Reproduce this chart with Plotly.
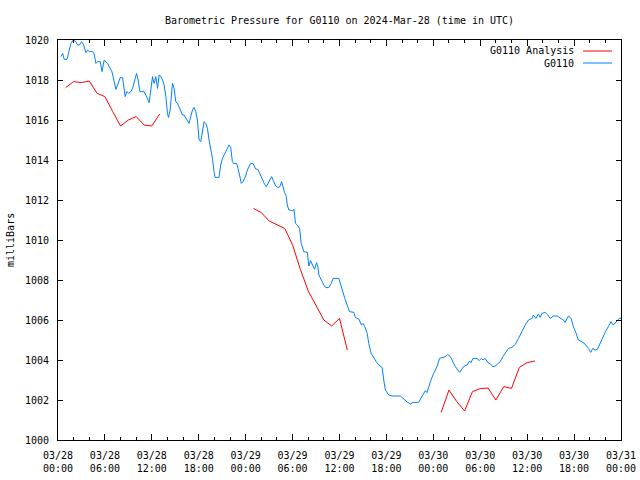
import pandas as pd
import plotly.graph_objects as go

# ---- data ----
start_time = "2024-03-28 00:00"

obs_hours = [0.38, 0.6, 0.8, 1.15, 1.44, 1.66, 1.95, 2.21, 2.51, 2.72, 3.03, 3.28, 3.57, 3.79, 4.0, 4.43, 4.63,
             4.85, 5.07, 5.4, 5.62, 5.91, 6.34, 6.55, 6.89, 7.19, 7.4, 7.62, 7.95, 8.26, 8.39, 8.59, 8.81, 9.03,
             9.32, 9.54, 9.87, 10.05, 10.25, 10.47, 10.72, 10.94, 11.23, 11.45, 11.66, 11.87, 12.09, 12.29, 12.51,
             12.73, 12.93, 13.15, 13.37, 13.57, 13.79, 14.0, 14.13, 14.34, 14.55, 14.64, 14.85, 15.06, 15.28, 15.7,
             15.92, 16.12, 16.56, 16.76, 16.98, 17.2, 17.4, 17.62, 17.83, 18.04, 18.26, 18.47, 18.68, 18.89, 19.11,
             19.32, 19.53, 19.75, 19.95, 20.08, 20.59, 20.81, 21.03, 21.23, 21.45, 21.66, 21.87, 22.09, 22.3, 22.43,
             22.85, 23.02, 23.23, 23.45, 23.66, 24.0, 24.22, 24.42, 24.64, 24.93, 25.28, 25.57, 25.79, 26.0, 26.21,
             26.43, 26.64, 26.85, 27.06, 27.32, 27.54, 27.83, 28.12, 28.38, 28.6, 28.81, 28.98, 29.2, 29.32, 29.53,
             29.96, 30.17, 30.38, 30.6, 30.89, 31.11, 31.44, 31.88, 32.08, 32.3, 32.52, 32.81, 33.06, 33.23, 33.36,
             33.67, 34.0, 34.21, 34.64, 34.94, 35.2, 35.91, 36.22, 36.42, 36.68, 36.98, 37.28, 37.83, 38.04, 38.46,
             38.81, 39.03, 39.23, 39.54, 39.74, 40.05, 40.38, 40.69, 41.02, 41.45, 41.66, 41.87, 42.29, 42.73, 43.79,
             44.21, 44.64, 45.06, 45.41, 46.12, 46.43, 46.76, 46.98, 47.2, 47.62, 48.04, 48.47, 48.8, 49.24, 49.53,
             49.83, 50.17, 50.39, 50.81, 51.36, 51.87, 52.3, 52.64, 52.81, 53.07, 53.58, 53.87, 54.13, 54.35, 54.64,
             54.98, 55.28, 55.62, 55.92, 56.34, 56.55, 56.9, 57.19, 57.61, 58.05, 58.47, 58.89, 59.32, 59.74, 60.17,
             60.6, 60.8, 61.11, 61.44, 61.66, 61.88, 62.3, 62.64, 62.94, 63.36, 63.87, 64.3, 64.64, 64.85, 65.28,
             65.62, 65.91, 66.26, 66.55, 66.98, 67.4, 67.83, 68.13, 68.39, 68.68, 68.98, 69.23, 69.54, 69.96, 70.38,
             70.72, 71.02, 71.45, 71.78, 72.0]

obs_pressure = [1019.17, 1019.33, 1019.03, 1019.03, 1019.5, 1019.83, 1020.0, 1019.95, 1019.75, 1019.75, 1019.92,
                1019.75, 1019.37, 1019.5, 1019.42, 1019.42, 1019.3, 1018.83, 1018.92, 1018.92, 1018.42, 1019.0,
                1018.83, 1018.67, 1018.42, 1017.92, 1017.53, 1017.75, 1018.12, 1018.12, 1017.67, 1017.17, 1017.42,
                1017.33, 1017.42, 1017.58, 1018.08, 1018.33, 1018.0, 1017.42, 1017.42, 1017.45, 1017.25, 1017.08,
                1016.87, 1017.5, 1018.17, 1017.83, 1018.17, 1017.58, 1018.25, 1018.17, 1018.0, 1017.75, 1017.17,
                1016.33, 1016.13, 1016.5, 1017.25, 1017.83, 1017.58, 1016.92, 1016.83, 1016.5, 1016.25, 1016.25,
                1016.0, 1015.83, 1016.17, 1016.5, 1016.63, 1016.42, 1016.0, 1015.0, 1014.92, 1015.5, 1015.92,
                1015.83, 1015.58, 1015.0, 1014.58, 1014.08, 1013.42, 1013.13, 1013.13, 1013.75, 1014.08, 1014.25,
                1014.42, 1014.63, 1014.75, 1014.63, 1013.92, 1013.83, 1013.83, 1013.58, 1013.17, 1012.83, 1012.92,
                1013.2, 1013.5, 1013.7, 1013.83, 1013.83, 1013.55, 1013.53, 1013.33, 1013.2, 1013.03, 1012.78,
                1012.67, 1012.83, 1012.92, 1013.17, 1012.97, 1012.7, 1012.62, 1012.67, 1012.92, 1012.58, 1012.37,
                1012.17, 1011.75, 1011.5, 1011.47, 1011.53, 1010.83, 1010.75, 1010.58, 1009.83, 1009.42, 1009.38,
                1008.7, 1008.97, 1008.75, 1008.53, 1008.87, 1008.67, 1008.25, 1007.97, 1007.75, 1007.62, 1007.62,
                1007.83, 1008.08, 1008.08, 1007.67, 1007.33, 1007.08, 1006.75, 1006.42, 1006.38, 1006.12, 1006.05,
                1005.75, 1005.83, 1005.67, 1005.33, 1004.83, 1004.33, 1004.08, 1003.92, 1003.75, 1003.63, 1003.0,
                1002.5, 1002.25, 1002.2, 1002.2, 1002.03, 1001.9, 1001.8, 1001.88, 1001.88, 1002.08, 1002.33,
                1002.47, 1002.37, 1002.92, 1003.33, 1003.67, 1004.08, 1004.12, 1004.17, 1004.28, 1004.17, 1004.0,
                1003.67, 1003.38, 1003.67, 1003.75, 1003.95, 1003.87, 1004.08, 1004.08, 1003.97, 1004.08, 1004.0,
                1004.08, 1003.87, 1003.8, 1003.67, 1003.7, 1003.87, 1003.92, 1004.17, 1004.33, 1004.58, 1004.63,
                1004.78, 1005.08, 1005.42, 1005.75, 1006.0, 1006.08, 1006.25, 1006.08, 1006.3, 1006.13, 1006.33,
                1006.38, 1006.25, 1006.08, 1006.2, 1006.2, 1006.08, 1006.0, 1005.88, 1006.2, 1006.08, 1005.67,
                1005.33, 1005.0, 1004.92, 1004.8, 1004.58, 1004.38, 1004.58, 1004.5, 1004.53, 1004.75, 1005.08,
                1005.37, 1005.67, 1005.92, 1005.75, 1005.97, 1006.08, 1006.1]

analysis_hours = [1, 2, 3, 4, 5, 6, 7, 8, 9, 10, 11, 12, 13, None,
                  25, 26, 27, 28, 29, 30, 31, 32, 33, 34, 35, 36, 37, None,
                  49, 50, 51, 52, 53, 54, 55, 56, 57, 58, 59, 60, 61]
analysis_pressure = [1017.63, 1017.92, 1017.87, 1017.95, 1017.33, 1017.17, 1016.42, 1015.7, 1016.0, 1016.17,
                     1015.75, 1015.7, 1016.3, None,
                     1011.58, 1011.37, 1010.95, 1010.78, 1010.58, 1009.75, 1008.53, 1007.45, 1006.7, 1006.0,
                     1005.7, 1006.08, 1004.5, None,
                     1001.38, 1002.5, 1001.92, 1001.45, 1002.42, 1002.57, 1002.6, 1002.0, 1002.67, 1002.58,
                     1003.63, 1003.87, 1003.95]

series_names = ["G0110 Analysis", "G0110"]
series_colors = ["#ff0000", "#0080ff"]
title_text = "Barometric Pressure for G0110 on 2024-Mar-28 (time in UTC)"
y_label = "milliBars"

# ---- figure ----
base = pd.Timestamp(start_time)


def to_time(hours):
    return [None if h is None else base + pd.Timedelta(hours=h) for h in hours]


FONT = "DejaVu Sans Mono"
W, H = 640, 480
L, R, T, B = 58, 19, 40, 40
pw, ph = W - L - R, H - T - B

fig = go.Figure()
fig.add_trace(go.Scatter(x=to_time(analysis_hours), y=analysis_pressure, mode="lines",
                         line=dict(color=series_colors[0], width=1), connectgaps=False,
                         name=series_names[0], showlegend=False))
fig.add_trace(go.Scatter(x=to_time(obs_hours), y=obs_pressure, mode="lines",
                         line=dict(color=series_colors[1], width=1),
                         name=series_names[1], showlegend=False))

HOUR_MS = 3600 * 1000
fig.update_xaxes(
    type="date", automargin=False,
    range=[base, base + pd.Timedelta(hours=72)],
    tickmode="linear", tick0=base, dtick=6 * HOUR_MS,
    tickformat="%m/%d<br>%H:%M",
    ticks="inside", ticklen=6, tickcolor="black", tickwidth=1,
    minor=dict(dtick=2 * HOUR_MS, ticks="inside", ticklen=3, tickcolor="black", tickwidth=1),
    showline=True, linecolor="black", linewidth=1, mirror="ticks",
    showgrid=False, zeroline=False, ticklabelstandoff=6,
    tickfont=dict(family=FONT, size=10, color="black"),
)
fig.update_yaxes(
    automargin=False,
    range=[1000, 1020], tickmode="linear", tick0=1000, dtick=2,
    ticks="inside", ticklen=5, tickcolor="black", tickwidth=1,
    showline=True, linecolor="black", linewidth=1, mirror="ticks",
    showgrid=False, zeroline=False, ticklabelstandoff=6,
    tickfont=dict(family=FONT, size=10, color="black"),
)

# legend drawn gnuplot-style: text right-aligned, sample to the right
legend_rows_y = [51, 63]
annotations = []
shapes = []
for name, color, yy in zip(series_names, series_colors, legend_rows_y):
    py = (H - B - yy) / ph
    annotations.append(dict(x=(576 - L) / pw, y=py, xref="paper", yref="paper", text=name,
                            showarrow=False, xanchor="right", yanchor="middle",
                            font=dict(family=FONT, size=10, color="black")))
    shapes.append(dict(type="line", xref="paper", yref="paper",
                       x0=(583 - L) / pw, x1=(612 - L) / pw, y0=py, y1=py,
                       line=dict(color=color, width=1)))

annotations.append(dict(x=(10 - L) / pw, y=0.5, xref="paper", yref="paper", text=y_label,
                        showarrow=False, textangle=-90, xanchor="center", yanchor="middle",
                        font=dict(family=FONT, size=10, color="black")))

fig.update_layout(
    width=W, height=H,
    margin=dict(l=L, r=R, t=T, b=B),
    paper_bgcolor="white", plot_bgcolor="white",
    title=dict(text=title_text, x=0.5, xref="paper", y=1 - 20 / H, yref="container",
               xanchor="center", yanchor="middle",
               font=dict(family=FONT, size=10, color="black")),
    annotations=annotations, shapes=shapes,
    showlegend=False,
)

fig.write_html("out.html")
